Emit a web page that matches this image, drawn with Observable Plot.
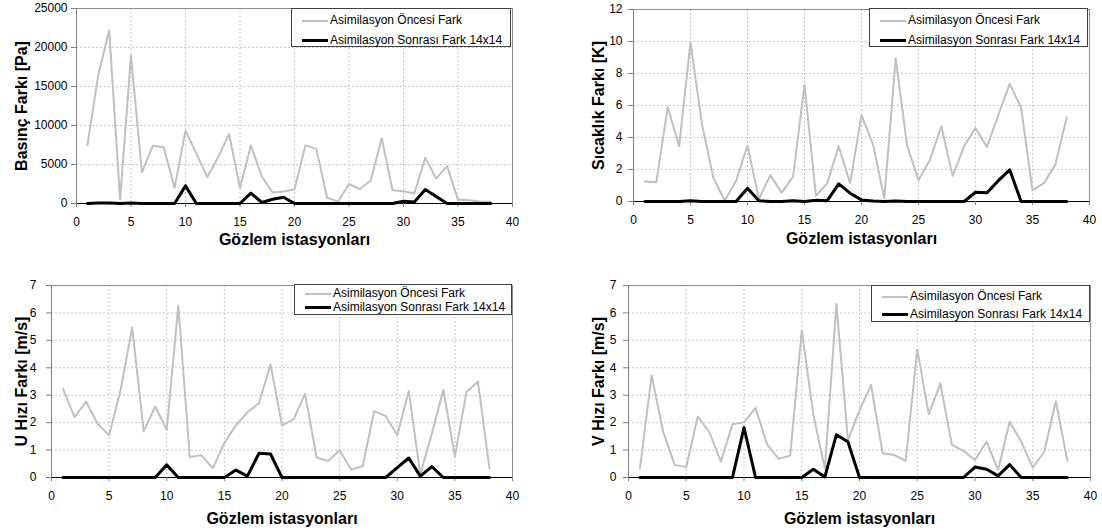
<!DOCTYPE html>
<html>
<head>
<meta charset="utf-8">
<script src="https://cdn.jsdelivr.net/npm/d3@7"></script>
<script src="https://cdn.jsdelivr.net/npm/@observablehq/plot@0.6"></script>
<style>
  html, body { margin: 0; padding: 0; background: #fff; }
  #root { position: relative; width: 1102px; height: 532px; overflow: hidden; font-family: "Liberation Sans", Arial, sans-serif; }
  .panel { position: absolute; }
  .legend { position: absolute; background: #fff; border: 1px solid #404040; box-sizing: border-box; font-size: 12px; color: #000; }
  .legend .row { position: absolute; left: 0; height: 14px; line-height: 14px; white-space: nowrap; }
  .legend .sw { display: inline-block; vertical-align: middle; }
</style>
</head>
<body>
<div id="root"></div>
<script>
// ---- data ----
const stations = [1,2,3,4,5,6,7,8,9,10,11,12,13,14,15,16,17,18,19,20,21,22,23,24,25,26,27,28,29,30,31,32,33,34,35,36,37,38];
const seriesNames = ["Asimilasyon Öncesi Fark", "Asimilasyon Sonrası Fark 14x14"];
const xTitle = "Gözlem istasyonları";
const xTicks = [0,5,10,15,20,25,30,35,40];

const pressureBefore = [7500,16500,22200,500,19000,4000,7400,7200,2000,9350,6400,3400,5950,8900,2000,7430,3460,1400,1550,1800,7450,7000,730,260,2500,1850,2950,8380,1700,1580,1280,5850,3200,4800,470,430,260,210];
const pressureAfter  = [0,60,60,0,60,0,0,0,0,2260,0,0,0,0,0,1320,130,550,810,0,0,0,0,0,0,0,0,0,0,300,200,1800,900,0,0,0,0,0];
const pressureTicks = [0,5000,10000,15000,20000,25000];

const tempBefore = [1.25,1.2,5.9,3.45,9.95,4.85,1.5,0.05,1.3,3.5,0.15,1.65,0.55,1.55,7.3,0.35,1.15,3.45,1.15,5.4,3.6,0.2,8.95,3.5,1.35,2.6,4.7,1.6,3.45,4.6,3.4,5.4,7.35,5.85,0.7,1.15,2.3,5.25];
const tempAfter  = [0,0,0,0,0.05,0,0,0,0,0.83,0.05,0,0,0.05,0,0.08,0.05,1.1,0.52,0.1,0.03,0,0.03,0,0,0,0,0,0,0.58,0.54,1.3,1.98,0,0,0,0,0];
const tempTicks = [0,2,4,6,8,10,12];

const uBefore = [3.23,2.2,2.77,1.96,1.54,3.2,5.47,1.68,2.59,1.74,6.26,0.75,0.81,0.34,1.26,1.9,2.38,2.71,4.12,1.9,2.12,3.05,0.73,0.6,0.99,0.29,0.41,2.42,2.24,1.54,3.15,0.12,1.6,3.2,0.77,3.11,3.5,0.33];
const uAfter  = [0,0,0,0,0,0,0,0,0,0.46,0,0,0,0,0,0.27,0.05,0.88,0.86,0,0,0,0,0,0,0,0,0,0,0.36,0.71,0.05,0.4,0,0,0,0,0];

const vBefore = [0.34,3.72,1.67,0.46,0.38,2.22,1.65,0.58,1.94,2.01,2.54,1.21,0.68,0.8,5.36,2.3,0.32,6.33,1.35,2.45,3.38,0.88,0.82,0.61,4.67,2.31,3.43,1.19,0.97,0.64,1.31,0.28,2.03,1.31,0.36,0.94,2.78,0.61];
const vAfter  = [0,0,0,0,0,0,0,0,0,1.82,0,0,0,0,0,0.3,0.02,1.56,1.3,0,0,0,0,0,0,0,0,0,0,0.38,0.3,0.06,0.47,0,0,0,0,0];
const windTicks = [0,1,2,3,4,5,6,7];

const panels = [
  {before: pressureBefore, after: pressureAfter, ticks: pressureTicks, yLabel: "Basınç Farkı [Pa]",
   left: 0, top: 0, width: 551, height: 265, ml: 76, mr: 39, mt: 8, mb: 62, tickPad: 4, yDx: -55, xDy: 36,
   legend: {left: 291, top: 8, width: 220, height: 39, row1: 4, row2: 24}},
  {before: tempBefore, after: tempAfter, ticks: tempTicks, yLabel: "Sıcaklık Farkı [K]",
   left: 551, top: 0, width: 551, height: 265, ml: 82, mr: 13, mt: 9, mb: 64, tickPad: 6, yDx: -35, xDy: 37,
   legend: {left: 869, top: 8, width: 219, height: 39, row1: 4, row2: 24}},
  {before: uBefore, after: uAfter, ticks: windTicks, yLabel: "U Hızı Farkı [m/s]",
   left: 0, top: 265, width: 551, height: 267, ml: 51, mr: 39, mt: 20, mb: 55, tickPad: 10, yDx: -30, xDy: 41,
   legend: {left: 294, top: 284, width: 218, height: 31, row1: 1, row2: 15}},
  {before: vBefore, after: vAfter, ticks: windTicks, yLabel: "V Hızı Farkı [m/s]",
   left: 551, top: 265, width: 551, height: 267, ml: 77, mr: 12, mt: 20, mb: 55, tickPad: 7, yDx: -30, xDy: 41,
   legend: {left: 871, top: 285, width: 219, height: 37, row1: 3, row2: 21}}
];

const colors = ["#c0c0c0", "#000000"];
const widths = [2, 3];
const root = document.getElementById("root");

for (const p of panels) {
  const rows = stations.map((s, i) => ({s, before: p.before[i], after: p.after[i]}));
  const yMax = p.ticks[p.ticks.length - 1];
  const chart = Plot.plot({
    width: p.width, height: p.height,
    marginLeft: p.ml, marginRight: p.mr, marginTop: p.mt, marginBottom: p.mb,
    style: {fontFamily: "'Liberation Sans', Arial, sans-serif", fontSize: "12px", color: "#000", background: "transparent", overflow: "visible"},
    x: {domain: [0, 40]},
    y: {domain: [0, yMax]},
    marks: [
      Plot.gridX(xTicks.slice(1, -1), {stroke: "#c8c8c8", strokeOpacity: 1, strokeDasharray: "2,2"}),
      Plot.gridY(p.ticks.slice(1, -1), {stroke: "#c8c8c8", strokeOpacity: 1, strokeDasharray: "2,2"}),
      Plot.frame({stroke: "#8c8c8c"}),
      Plot.ruleX([0], {stroke: "#808080"}),
      Plot.ruleY([0], {stroke: "#000"}),
      Plot.axisX(xTicks, {tickSize: 4, tickPadding: 10, label: null, stroke: "#808080", fill: "#000", fontSize: 12, tickFormat: d3.format("d")}),
      Plot.axisY(p.ticks, {tickSize: 5, tickPadding: p.tickPad, label: null, stroke: "#808080", fill: "#000", fontSize: 12, tickFormat: d3.format("d")}),
      Plot.line(rows, {x: "s", y: "before", stroke: colors[0], strokeWidth: widths[0]}),
      Plot.line(rows, {x: "s", y: "after", stroke: colors[1], strokeWidth: widths[1]}),
      Plot.text([p.yLabel], {frameAnchor: "left", textAnchor: "middle", lineAnchor: "middle", rotate: -90, dx: p.yDx, fontWeight: "bold", fontSize: 16, fill: "#000"}),
      Plot.text([xTitle], {frameAnchor: "bottom", textAnchor: "middle", lineAnchor: "middle", dy: p.xDy, fontWeight: "bold", fontSize: 16, fill: "#000"})
    ]
  });
  chart.classList.add("panel");
  chart.style.left = p.left + "px";
  chart.style.top = p.top + "px";
  root.appendChild(chart);

  // legend
  const lg = document.createElement("div");
  lg.className = "legend";
  lg.style.left = p.legend.left + "px";
  lg.style.top = p.legend.top + "px";
  lg.style.width = p.legend.width + "px";
  lg.style.height = p.legend.height + "px";
  seriesNames.forEach((name, i) => {
    const row = document.createElement("div");
    row.className = "row";
    row.style.top = (i === 0 ? p.legend.row1 : p.legend.row2) + "px";
    row.style.left = "10px";
    const sw = document.createElement("span");
    sw.className = "sw";
    sw.style.width = "26px";
    sw.style.height = "0px";
    sw.style.borderTop = widths[i] + "px solid " + colors[i];
    sw.style.marginRight = "2px";
    row.appendChild(sw);
    row.appendChild(document.createTextNode(name));
    lg.appendChild(row);
  });
  root.appendChild(lg);
}
</script>
</body>
</html>
